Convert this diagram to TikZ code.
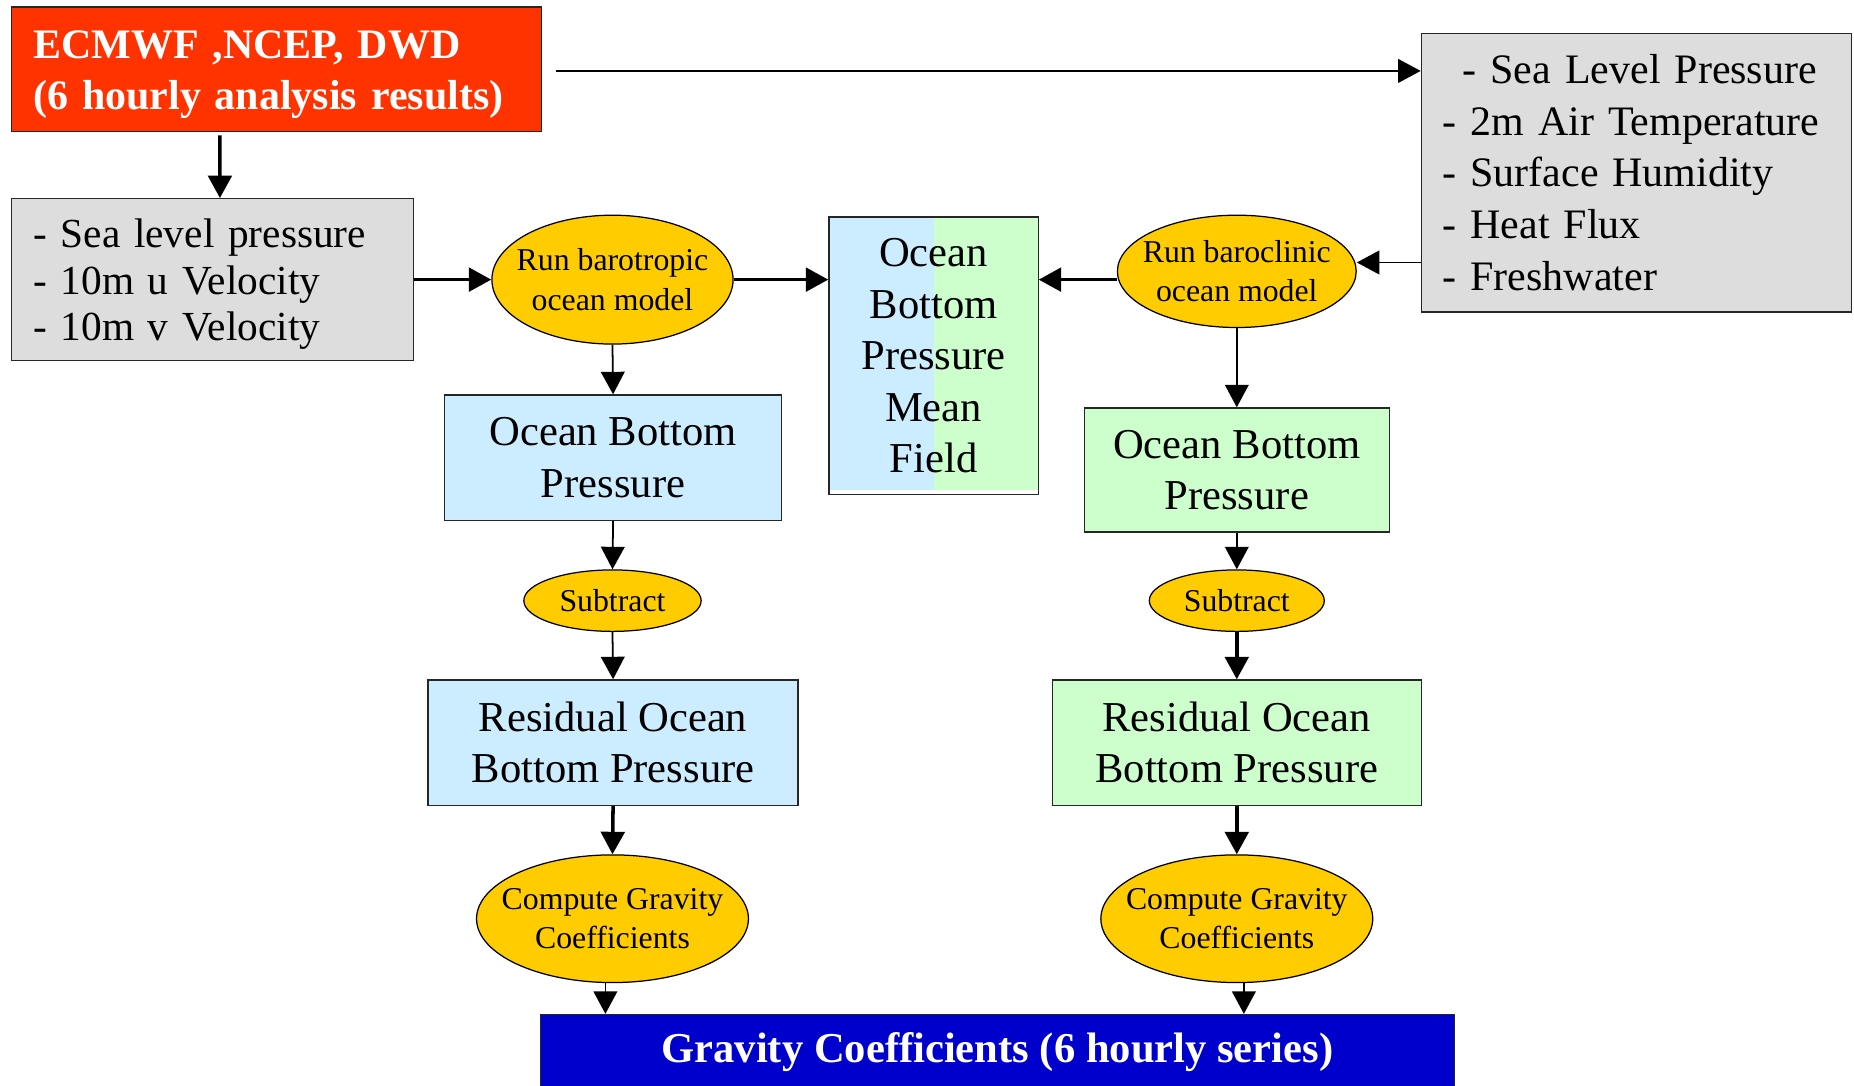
\documentclass[tikz,border=0pt]{standalone}
\usepackage{fontspec}
\setmainfont{Liberation Serif}
\usetikzlibrary{shapes.geometric,arrows.meta}

\definecolor{srcred}{HTML}{FF3300}
\definecolor{inputgrey}{HTML}{DDDDDD}
\definecolor{modelyellow}{HTML}{FFCC00}
\definecolor{tropblue}{HTML}{CCECFF}
\definecolor{clingreen}{HTML}{CCFFCC}
\definecolor{outblue}{HTML}{0000CC}

\tikzstyle{box} = [draw=black!85, line width=0.6pt, rectangle, inner sep=0pt, align=center, font=\fontsize{20.5}{24.8}\selectfont]
\tikzstyle{model} = [draw=black, line width=0.6pt, ellipse, fill=modelyellow, inner xsep=-0.4cm, inner ysep=0pt, align=center, font=\fontsize{15.3}{18.8}\selectfont]
\tikzstyle{line} = [draw, line width=0.85pt, -{Triangle[length=0.38cm,width=0.4cm]}]
\tikzstyle{bold line} = [line, line width=1.7pt]

\begin{document}
\begin{tikzpicture}[x=0.02cm,y=-0.02cm]
\useasboundingbox (0,0) rectangle (1568,918);
%sources
\node[box, fill=srcred, text=white, minimum width=8.96cm, minimum height=2.1cm, text width=8.24cm, align=left, font=\bfseries\fontsize{20.2}{24.5}\selectfont] (ecmwf) at (234,58.5) {\rule{0pt}{0.67cm}ECMWF ,NCEP, DWD\\(6 hourly analysis results)};
\node[box, fill=inputgrey, minimum width=6.8cm, minimum height=2.74cm, text width=6.08cm, align=left, font=\fontsize{19.9}{22.5}\selectfont] (forcing) at (180,236.5) {\rule{0pt}{0.64cm}- Sea level pressure\\- 10m u Velocity\\- 10m v Velocity};
\node[box, fill=inputgrey, minimum width=7.28cm, minimum height=4.72cm, text width=6.56cm, align=left, font=\fontsize{20.2}{24.8}\selectfont] (atmos) at (1384,146) {\hspace*{0.34cm}- Sea Level Pressure\\- 2m Air Temperature\\- Surface Humidity\\- Heat Flux\\- Freshwater};

%models
\node[model, minimum width=4.08cm, minimum height=2.18cm] (runtrop) at (518,236.5) {Run barotropic\\ocean model};
\node[model, minimum width=4.04cm, minimum height=1.9cm] (runclin) at (1046,229.5) {Run baroclinic\\ocean model};

%mean field
\node[box, minimum width=3.54cm, minimum height=4.7cm, path picture={
  \fill[tropblue] ([yshift=0.08cm]path picture bounding box.south west) rectangle (path picture bounding box.north);
  \fill[clingreen] ([yshift=0.08cm]path picture bounding box.south) rectangle (path picture bounding box.north east);}] (meanobp) at (789.5,301) {Ocean\\Bottom\\Pressure\\Mean\\Field};

%barotropic column
\node[box, fill=tropblue, minimum width=5.7cm, minimum height=2.12cm] (obptrop) at (518.5,387) {Ocean Bottom\\Pressure};
\node[model, minimum width=3cm, minimum height=1.04cm] (subtrop) at (518,508) {Subtract};
\node[box, fill=tropblue, minimum width=6.26cm, minimum height=2.12cm] (restrop) at (518.5,628) {Residual Ocean\\Bottom Pressure};
\node[model, minimum width=4.6cm, minimum height=2.16cm] (gravtrop) at (518,777) {Compute Gravity\\Coefficients};

%baroclinic column
\node[box, fill=clingreen, minimum width=5.16cm, minimum height=2.1cm] (obpclin) at (1046,397.5) {Ocean Bottom\\Pressure};
\node[model, minimum width=2.96cm, minimum height=1.04cm] (subclin) at (1046,508) {Subtract};
\node[box, fill=clingreen, minimum width=6.24cm, minimum height=2.12cm] (resclin) at (1046,628) {Residual Ocean\\Bottom Pressure};
\node[model, minimum width=4.6cm, minimum height=2.16cm] (gravclin) at (1046,777) {Compute Gravity\\Coefficients};

%output
\node[box, fill=outblue, text=white, minimum width=15.46cm, minimum height=1.28cm, font=\bfseries\fontsize{20.5}{24.5}\selectfont] (series) at (843.5,890) {Gravity Coefficients (6 hourly series)};

%lines
\path [bold line] ([xshift=-0.96cm,yshift=-0.06cm]ecmwf.south) -- ([xshift=0.12cm]forcing.north);
\path [line, shorten <=0.24cm] ([yshift=-0.03cm]ecmwf.east) -- ([yshift=-0.03cm]ecmwf.east -| atmos.west);
\path [bold line] (forcing.east) -- (runtrop.west);
\path [bold line] (runtrop.east) -- (runtrop.east -| meanobp.west);
\path [bold line] (runclin.west |- runtrop.east) -- (runtrop.east -| meanobp.east);
\path [line] ([yshift=0.15cm]runclin.east -| atmos.west) -- ([yshift=0.15cm]runclin.east);

\path [line] (runtrop.south) -- (obptrop.north);
\path [line] (obptrop.south) -- (subtrop.north);
\path [line] (subtrop.south) -- (restrop.north);
\path [bold line] (restrop.south) -- (gravtrop.north);
\path [line] ([xshift=-0.12cm]gravtrop.south) -- ([xshift=-0.12cm]gravtrop.south |- series.north);

\path [line] (runclin.south) -- (obpclin.north);
\path [line] (obpclin.south) -- (subclin.north);
\path [bold line] (subclin.south) -- (resclin.north);
\path [bold line] (resclin.south) -- (gravclin.north);
\path [line] ([xshift=0.12cm]gravclin.south) -- ([xshift=0.12cm]gravclin.south |- series.north);
\end{tikzpicture}
\end{document}
